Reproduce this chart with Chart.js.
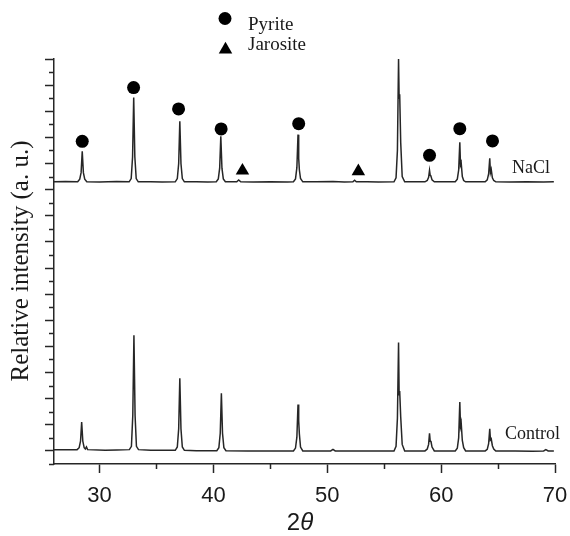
<!DOCTYPE html>
<html>
<head>
<meta charset="utf-8">
<script src="https://cdn.jsdelivr.net/npm/chart.js@4.4.0/dist/chart.umd.min.js"></script>
<style>
  html, body { margin: 0; padding: 0; background: #fff; }
  #wrap { width: 570px; height: 536px; }
</style>
</head>
<body>
<div id="wrap"><canvas id="xrd" width="570" height="536"></canvas></div>
<script>
// 2-theta positions and intensities (arbitrary units, one unit = one y tick)
var naclTheta = [
  26.0, 27.0,
  28.08, 28.26, 28.38, 28.48, 28.58, 28.70, 28.88,
  30.0, 31.5,
  32.60, 32.78, 32.90, 33.00, 33.10, 33.22, 33.40,
  34.5, 35.5,
  36.65, 36.83, 36.95, 37.05, 37.15, 37.27, 37.45,
  38.5, 39.5,
  40.25, 40.43, 40.55, 40.65, 40.75, 40.87, 41.05,
  42.05, 42.22, 42.40,
  43.5, 45.0, 46.5,
  47.03, 47.21, 47.33, 47.43, 47.49, 47.55, 47.65, 47.85,
  49.0, 50.5, 51.5,
  52.25, 52.40, 52.55,
  53.5, 54.5,
  55.86, 56.04, 56.16, 56.26, 56.31, 56.36, 56.45, 56.58, 56.80,
  57.8,
  58.58, 58.78, 58.90, 58.98, 59.04, 59.10, 59.20, 59.40,
  60.5,
  61.24, 61.42, 61.54, 61.64, 61.70, 61.76, 61.86, 61.98, 62.15,
  63.0,
  63.87, 64.05, 64.17, 64.27, 64.33, 64.40, 64.50, 64.62, 64.80,
  66.0, 67.5, 69.0, 69.9
];
var naclCounts = [
  20.6, 20.62,
  20.6, 20.8, 21.3, 22.94, 21.3, 20.8, 20.6,
  20.58, 20.62,
  20.6, 20.85, 22.5, 27.06, 22.5, 20.85, 20.6,
  20.6, 20.58,
  20.6, 20.85, 22.0, 25.23, 22.0, 20.85, 20.6,
  20.6, 20.58,
  20.6, 20.82, 21.64, 24.08, 21.64, 20.82, 20.6,
  20.6, 20.74, 20.6,
  20.58, 20.6, 20.58,
  20.6, 20.82, 21.68, 24.21, 22.4, 21.5, 20.85, 20.6,
  20.6, 20.62, 20.58,
  20.6, 20.72, 20.6,
  20.6, 20.58,
  20.6, 20.9, 23.0, 30.0, 27.0, 27.3, 23.6, 21.0, 20.6,
  20.6,
  20.6, 20.7, 20.95, 21.48, 21.1, 21.05, 20.75, 20.6,
  20.6,
  20.6, 20.8, 21.5, 23.62, 21.9, 22.07, 21.0, 20.7, 20.6,
  20.6,
  20.6, 20.75, 21.2, 22.4, 21.3, 21.54, 20.9, 20.7, 20.6,
  20.58, 20.6, 20.58, 20.6
];

var controlTheta = [
  26.0, 27.0,
  28.03, 28.21, 28.33, 28.43, 28.53, 28.65, 28.75, 28.85, 28.95,
  30.5, 31.5,
  32.62, 32.80, 32.92, 33.02, 33.12, 33.24, 33.42,
  34.5, 35.5,
  36.65, 36.83, 36.95, 37.05, 37.15, 37.27, 37.45,
  38.5, 39.5,
  40.30, 40.48, 40.60, 40.70, 40.80, 40.92, 41.10,
  43.0, 45.0,
  47.03, 47.21, 47.33, 47.43, 47.49, 47.55, 47.65, 47.85,
  49.5, 50.3, 50.5, 50.7, 52.5, 54.5,
  55.86, 56.04, 56.16, 56.26, 56.31, 56.36, 56.45, 56.58, 56.80,
  57.8,
  58.58, 58.78, 58.90, 58.98, 59.04, 59.10, 59.20, 59.40,
  60.5,
  61.24, 61.42, 61.54, 61.64, 61.70, 61.76, 61.86, 61.98, 62.15,
  63.0,
  63.87, 64.05, 64.17, 64.27, 64.33, 64.40, 64.50, 64.62, 64.80,
  66.5, 68.0, 69.0, 69.2, 69.4, 69.9
];
var controlCounts = [
  0.1, 0.1,
  0.1, 0.25, 0.74, 2.22, 0.74, 0.25, 0.15, 0.3, 0.1,
  0.05, 0.08,
  0.1, 0.35, 2.73, 8.85, 2.73, 0.35, 0.1,
  0.05, 0.05,
  0.05, 0.3, 1.7, 5.56, 1.7, 0.3, 0.05,
  0.02, 0.02,
  0.02, 0.25, 1.35, 4.41, 1.35, 0.25, 0.02,
  0.0, 0.0,
  0.0, 0.22, 1.05, 3.55, 2.3, 1.3, 0.3, 0.0,
  0.0, 0.0, 0.12, 0.0, 0.0, 0.0,
  0.0, 0.35, 2.5, 8.29, 4.3, 4.59, 2.6, 0.5, 0.0,
  0.0,
  0.0, 0.15, 0.5, 1.35, 0.75, 0.76, 0.3, 0.0,
  0.0,
  0.0, 0.2, 1.0, 3.74, 1.9, 2.17, 0.8, 0.25, 0.0,
  0.0,
  0.0, 0.12, 0.55, 1.7, 0.85, 0.93, 0.4, 0.15, 0.0,
  0.0, -0.02, 0.0, 0.1, 0.0, 0.0
];

// phase markers above the NaCl pattern
var pyriteTheta = [28.48, 32.99, 36.94, 40.68, 47.49, 56.26, 58.98, 61.64, 64.51];
var pyriteMarkY = [23.70, 27.81, 26.18, 24.65, 25.05, 30.81, 22.63, 24.67, 23.73];
var jarositeTheta = [42.55, 52.73];
var jarositeMarkY = [21.45, 21.40];

var xTicks = [30, 40, 50, 60, 70];

var INK = '#262626';

function pairs(xs, ys) {
  return xs.map(function (x, i) { return { x: x, y: ys[i] }; });
}

function minorValues(scale) {
  var vals = scale.ticks.map(function (t) { return t.value; });
  var out = [];
  if (vals.length > 1) {
    var half = (vals[1] - vals[0]) / 2;
    if (vals[0] - half >= scale.min) out.push(vals[0] - half);
  }
  for (var i = 0; i < vals.length - 1; i++) out.push((vals[i] + vals[i + 1]) / 2);
  return out;
}

var decor = {
  id: 'decor',
  afterDraw: function (chart) {
    var ctx = chart.ctx;
    var xs = chart.scales.x, ys = chart.scales.y;
    ctx.save();

    // minor ticks
    ctx.strokeStyle = INK;
    ctx.lineWidth = 1.5;
    ctx.beginPath();
    minorValues(xs).forEach(function (v) {
      var px = Math.round(xs.getPixelForValue(v)) + 0.5;
      ctx.moveTo(px, xs.top);
      ctx.lineTo(px, xs.top + 5);
    });
    minorValues(ys).forEach(function (v) {
      var py = Math.round(ys.getPixelForValue(v)) + 0.5;
      ctx.moveTo(ys.right, py);
      ctx.lineTo(ys.right - 5, py);
    });
    ctx.stroke();

    // legend
    ctx.fillStyle = '#000';
    ctx.beginPath();
    ctx.arc(225, 18.5, 6.5, 0, Math.PI * 2);
    ctx.fill();
    ctx.beginPath();
    var r = 7.8, cx = 225.5, cy = 49.5;
    ctx.moveTo(cx, cy - r);
    ctx.lineTo(cx + r * Math.sin(2 * Math.PI / 3), cy + r / 2);
    ctx.lineTo(cx - r * Math.sin(2 * Math.PI / 3), cy + r / 2);
    ctx.closePath();
    ctx.fill();

    ctx.fillStyle = '#1a1a1a';
    ctx.textAlign = 'left';
    ctx.textBaseline = 'alphabetic';
    ctx.font = '19px "Liberation Serif"';
    ctx.fillText('Pyrite', 248, 29.5);
    ctx.fillText('Jarosite', 248, 50);

    // series labels
    ctx.font = '18px "Liberation Serif"';
    ctx.fillText('NaCl', 512, 173);
    ctx.fillText('Control', 505, 439);

    // x title: 2θ
    ctx.font = '24px "Liberation Sans"';
    var w2 = ctx.measureText('2').width;
    ctx.font = 'italic 24px "Liberation Sans"';
    var wt = ctx.measureText('\u03b8').width;
    var x0 = 300 - (w2 + wt) / 2;
    ctx.font = '24px "Liberation Sans"';
    ctx.fillText('2', x0, 530);
    ctx.font = 'italic 24px "Liberation Sans"';
    ctx.fillText('\u03b8', x0 + w2, 530);

    // y title
    ctx.translate(28, 261);
    ctx.rotate(-Math.PI / 2);
    ctx.textAlign = 'center';
    ctx.font = '25px "Liberation Serif"';
    ctx.fillText('Relative intensity (a. u.)', 0, 0);

    ctx.restore();
  }
};

var lineStyle = {
  showLine: true,
  borderColor: INK,
  borderWidth: 1.5,
  pointRadius: 0,
  tension: 0,
  clip: false
};

new Chart(document.getElementById('xrd'), {
  type: 'scatter',
  data: {
    datasets: [
      Object.assign({ label: 'NaCl', data: pairs(naclTheta, naclCounts) }, lineStyle),
      Object.assign({ label: 'Control', data: pairs(controlTheta, controlCounts) }, lineStyle),
      {
        label: 'Pyrite',
        data: pairs(pyriteTheta, pyriteMarkY),
        pointStyle: 'circle',
        pointRadius: 6.5,
        backgroundColor: '#000',
        borderColor: '#000',
        borderWidth: 0,
        clip: false
      },
      {
        label: 'Jarosite',
        data: pairs(jarositeTheta, jarositeMarkY),
        pointStyle: 'triangle',
        pointRadius: 7.8,
        backgroundColor: '#000',
        borderColor: '#000',
        borderWidth: 0,
        clip: false
      }
    ]
  },
  options: {
    responsive: false,
    animation: false,
    events: [],
    layout: { padding: { top: 59, right: 15, left: 0, bottom: 0 } },
    plugins: { legend: { display: false }, tooltip: { enabled: false } },
    scales: {
      x: {
        type: 'linear',
        min: 26,
        max: 70,
        afterFit: function (s) {
          s.height = 72;
          s.paddingLeft = 0;
          s.paddingRight = 0;
        },
        afterBuildTicks: function (s) {
          s.ticks = xTicks.map(function (v) { return { value: v }; });
        },
        border: { display: true, color: INK, width: 1.5 },
        grid: { drawOnChartArea: false, drawTicks: true, tickLength: 9, tickColor: INK, tickWidth: 1.5 },
        ticks: {
          padding: 10,
          color: '#1a1a1a',
          maxRotation: 0,
          autoSkip: false,
          font: { family: 'Liberation Sans', size: 22 }
        }
      },
      y: {
        type: 'linear',
        min: -1,
        max: 30,
        afterFit: function (s) {
          s.width = 54;
          s.paddingTop = 0;
          s.paddingBottom = 0;
        },
        border: { display: true, color: INK, width: 1.5 },
        grid: { drawOnChartArea: false, drawTicks: true, tickLength: 9, tickColor: INK, tickWidth: 1.5 },
        ticks: { stepSize: 2, includeBounds: false, display: false }
      }
    }
  },
  plugins: [decor]
});
</script>
</body>
</html>
